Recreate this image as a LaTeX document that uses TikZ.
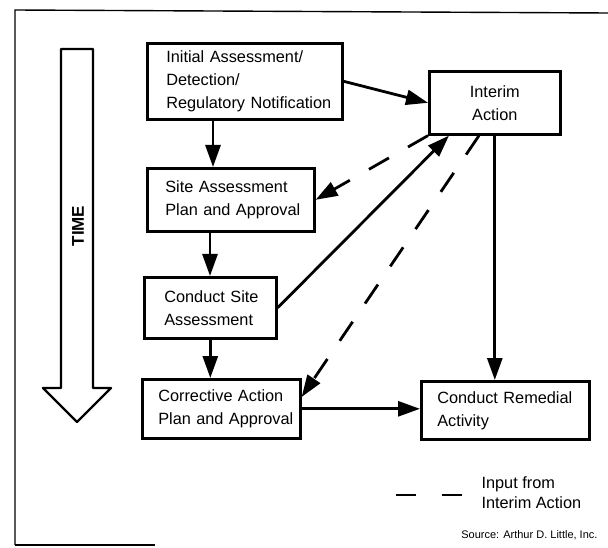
\documentclass[tikz,border=0pt]{standalone}
\usepackage{fontspec}
\setmainfont{Liberation Sans}
\usetikzlibrary{arrows.meta}

\tikzset{
  stage/.style={draw,line width=2.6pt,anchor=north west,align=left,font=\fontsize{16.3}{23}\selectfont},
  flow/.style={line width=2.8pt,-{Triangle[length=22pt,width=15pt]}},
  input/.style={flow,dash pattern=on 23pt off 22pt}
}

\begin{document}
\begin{tikzpicture}[x=1pt,y=-1pt]
			\useasboundingbox(0,0)rectangle(608,548);
			\draw[line width=1.4pt](15,545)--(15,10)--(608,13);
			\draw[line width=1.4pt](15,545)--(155,545);
			\draw[line width=2.4pt,line join=round](61,49)--(93,49)--(93,388)--(111,388)--(77,422)--(43,388)--(61,388)--cycle;
			\node[rotate=90,font=\bfseries\fontsize{17}{17}\selectfont](time)at(78,226){TIME};
			\node[stage,minimum width=195pt,minimum height=76pt,inner xsep=19pt,text width=157pt](init)at(146,42){\mbox{Initial Assessment/}\\\mbox{Detection/}\\\mbox{Regulatory Notification}};
			\node[stage,align=center,minimum width=131pt,minimum height=63pt,inner xsep=0pt](interim)at(428,70){Interim\\Action};
			\node[stage,minimum width=167pt,minimum height=63pt,inner xsep=18pt,text width=131pt](site)at(146,167){\mbox{Site Assessment}\\\mbox{Plan and Approval}};
			\node[stage,minimum width=132pt,minimum height=61pt,inner xsep=20pt,text width=92pt](csa)at(143,276){\mbox{Conduct Site}\\\mbox{Assessment}};
			\node[stage,minimum width=158pt,minimum height=59pt,inner xsep=16pt,text width=126pt](corr)at(141,378){\mbox{Corrective Action}\\\mbox{Plan and Approval}};
			\node[stage,minimum width=168pt,minimum height=58pt,inner xsep=16pt,text width=136pt](remed)at(420,380){\mbox{Conduct Remedial}\\\mbox{Activity}};
			\draw[flow]([xshift=67pt]init.south west)--([xshift=67pt]init.south west|-site.north);
			\draw[flow]([xshift=64pt]site.south west)--([xshift=64pt]site.south west|-csa.north);
			\draw[flow](csa.south)--(csa.south|-corr.north);
			\draw[flow](init.east)--(interim.west);
			\draw[flow](csa.east)--([xshift=21pt]interim.south west);
			\draw[flow](interim.south)--(interim.south|-remed.north);
			\draw[flow](corr.east)--(corr.east-|remed.west);
			\draw[input](interim.south west)--(site.east);
			\draw[input]([xshift=51pt]interim.south west)--([yshift=-19pt]corr.north east);
			\coordinate(leg1)at(396,495);
			\coordinate(leg2)at(463,495);
			\draw[line width=2.6pt,dash pattern=on 20pt off 26pt](leg1)--(leg2);
			\node[anchor=west,align=left,font=\fontsize{16.3}{20}\selectfont](key)at(478,493){Input from\\Interim Action};
			\node[anchor=east,font=\fontsize{11}{11}\selectfont](source)at(601,535){Source: Arthur D. Little, Inc.};
		\end{tikzpicture}
\end{document}
